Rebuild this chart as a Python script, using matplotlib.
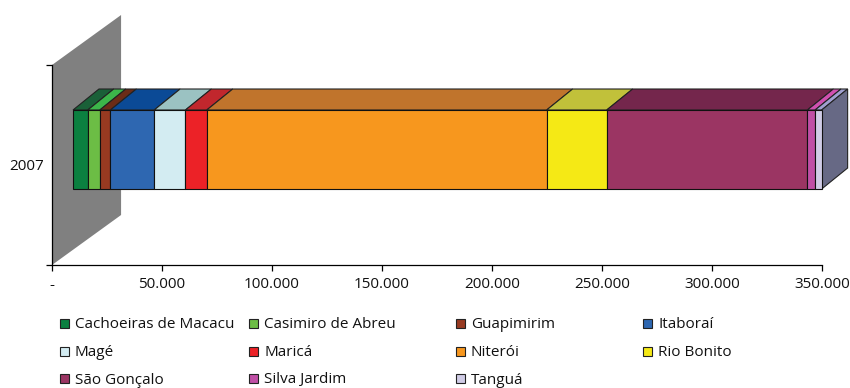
import matplotlib
matplotlib.use('Agg')
import matplotlib.pyplot as plt
from matplotlib.patches import Polygon, Rectangle
import numpy as np

plt.rcParams['font.family'] = ['Open Sans', 'DejaVu Sans']

# dados (populacao por municipio, 2007)
municipios = ['Cachoeiras de Macacu', 'Casimiro de Abreu', 'Guapimirim', 'Itaboraí',
              'Magé', 'Maricá', 'Niterói', 'Rio Bonito',
              'São Gonçalo', 'Silva Jardim', 'Tanguá']
valores = [6700, 5500, 4800, 19900, 14200, 9700, 154500, 27300, 91200, 3500, 3000]
ano = '2007'
xticks = [0, 50000, 100000, 150000, 200000, 250000, 300000, 350000]
xlabels = ['-', '50.000', '100.000', '150.000', '200.000', '250.000', '300.000', '350.000']

cores = ['#0b8040', '#6cbd45', '#973a21', '#2e67b1', '#d3ecf2', '#ec2227',
         '#f7971e', '#f5e915', '#9b3563', '#c04fa6', '#d0cce6']
topo = ['#1a6038', '#3cb54a', '#6b2c17', '#0b4a96', '#9bc2c2', '#c1272d',
        '#c0742c', '#c1c13a', '#74264c', '#d050b0', '#a0a0d0']
lado = '#676985'

# "profundidade" do efeito 3D (unidades de dados)
front_dx = 9550
dep_dx = 11800
dep_dy = 0.105
wall_dx = 31400
wall_dy = 0.25
y0, y1 = 0.38, 0.775
fs = 11

fig = plt.figure(figsize=(8.5, 3.88), dpi=100)
ax = fig.add_axes([52 / 850, 123 / 388, 770 / 850, 200 / 388])
ax.set_xlim(0, 350000)
ax.set_ylim(0, 1)

# parede do fundo
ax.add_patch(Polygon([(0, 0), (wall_dx, wall_dy), (wall_dx, 1 + wall_dy), (0, 1)],
                     closed=True, facecolor='#808080', edgecolor='none',
                     clip_on=False, zorder=1))

left = front_dx + np.concatenate([[0], np.cumsum(valores)[:-1]])
right = left + np.array(valores)

# faces de cima
for l, r, c in zip(left, right, topo):
    ax.add_patch(Polygon([(l, y1), (r, y1), (r + dep_dx, y1 + dep_dy), (l + dep_dx, y1 + dep_dy)],
                         closed=True, facecolor=c, edgecolor='#222222', lw=0.8,
                         clip_on=False, zorder=3))
# lateral direita
r = right[-1]
ax.add_patch(Polygon([(r, y0), (r, y1), (r + dep_dx, y1 + dep_dy), (r + dep_dx, y0 + dep_dy)],
                     closed=True, facecolor=lado, edgecolor='#222222', lw=0.8,
                     clip_on=False, zorder=3))

# faces da frente
ax.barh((y0 + y1) / 2, valores, left=left, height=y1 - y0, color=cores,
        edgecolor='#111111', linewidth=0.8, zorder=4, clip_on=False)

for s in ['top', 'right']:
    ax.spines[s].set_visible(False)
for s in ['left', 'bottom']:
    ax.spines[s].set_linewidth(0.9)
    ax.spines[s].set_zorder(2)

ax.set_xticks(xticks)
ax.set_xticklabels(xlabels)
ax.set_yticks([0, 1])
ax.set_yticklabels(['', ''])
ax.set_yticks([0.5], minor=True)
ax.set_yticklabels([ano], minor=True)
ax.tick_params(axis='y', which='minor', length=0, pad=6, labelsize=fs, colors='#111111')
ax.tick_params(axis='y', which='major', length=4, width=0.9, direction='out')
ax.tick_params(axis='x', length=4, width=0.9, direction='out', pad=5, labelsize=fs,
               labelcolor='#111111')

# legenda
col_x = [60, 249, 456, 643]
row_y = [325, 353, 380]
for i, (nome, c) in enumerate(zip(municipios, cores)):
    cx = col_x[i % 4]
    cy = row_y[i // 4]
    fig.patches.append(Rectangle((cx / 850, 1 - (cy + 3) / 388), 9 / 850, 9 / 388,
                                 transform=fig.transFigure, facecolor=c,
                                 edgecolor='#222222', lw=0.8))
    fig.text((cx + 15) / 850, 1 - cy / 388, nome, fontsize=fs, color='#111111',
             va='center', ha='left')

fig.savefig('out.png', dpi=100)
